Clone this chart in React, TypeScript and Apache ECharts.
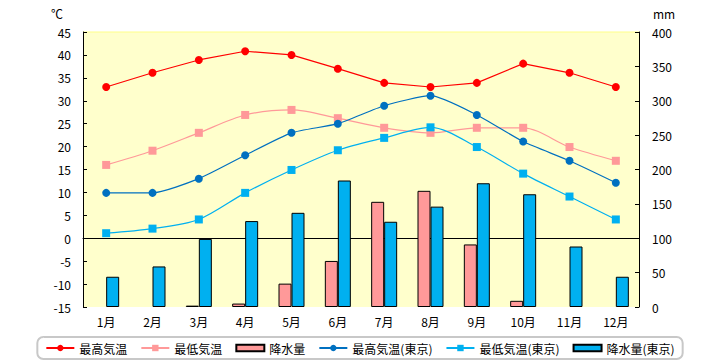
import React, { useEffect, useRef } from "react";
import * as echarts from "echarts";

const months = ["1月", "2月", "3月", "4月", "5月", "6月", "7月", "8月", "9月", "10月", "11月", "12月"];
const maxTemp = [33, 36.1, 38.9, 40.8, 40, 37, 33.9, 33, 33.9, 38.1, 36.1, 33];
const minTemp = [16, 19.1, 23, 26.9, 28, 26.2, 24.1, 23, 24.1, 24.1, 19.9, 16.9];
const rain = [0, 0, 2, 5, 34, 67, 153, 169, 91, 9, 0, 0];
const maxTempTokyo = [9.9, 9.9, 13, 18.1, 23, 25, 28.9, 31.1, 26.9, 21.1, 16.9, 12.1];
const minTempTokyo = [1.1, 2.1, 4.1, 9.9, 14.9, 19.2, 21.9, 24.2, 19.9, 14.1, 9.1, 4.1];
const rainTokyo = [44, 59, 99, 125, 137, 184, 124, 146, 180, 164, 88, 44];
const tempTicks = [-15, 45, 5];
const rainTicks = [0, 400, 50];

const FONT = "'Noto Sans CJK JP', 'DejaVu Sans', sans-serif";

const barData = (arr: number[]) =>
  arr.map((v) => (v === 0 ? { value: v, itemStyle: { borderWidth: 0, opacity: 0 } } : v));

export default function App() {
  const ref = useRef<HTMLDivElement>(null);
  useEffect(() => {
    if (!ref.current) return;
    const chart = echarts.init(ref.current, null, { renderer: "svg" });
    const barIcon = "path://M0,0 L26,0 L26,6 L0,6 Z";
    chart.setOption({
      animation: false,
      textStyle: { fontFamily: FONT },
      grid: {
        left: 83,
        right: 81,
        top: 32,
        bottom: 53,
        show: true,
        backgroundColor: "#FFFFCC",
        borderColor: "#FFFF99",
        borderWidth: 0,
      },
      graphic: [
        { type: "text", left: 51, top: 7, style: { text: "℃", fontSize: 12, fill: "#000", fontFamily: FONT } },
        { type: "text", left: 653, top: 7, style: { text: "mm", fontSize: 12, fill: "#000", fontFamily: FONT } },
        {
          type: "line",
          shape: { x1: 83, y1: 32, x2: 639, y2: 32 },
          style: { stroke: "#FFFF88", lineWidth: 1 },
        },
      ],
      legend: {
        bottom: 1,
        left: "center",
        width: 700,
        padding: [5, 8, 5, 8],
        borderColor: "#C8C8C8",
        borderWidth: 2,
        borderRadius: 6,
        itemWidth: 28,
        itemHeight: 8,
        itemGap: 13,
        textStyle: { fontSize: 12, color: "#000", fontFamily: FONT },
        data: [
          { name: "最高気温" },
          { name: "最低気温" },
          { name: "降水量", icon: barIcon },
          { name: "最高気温(東京)" },
          { name: "最低気温(東京)" },
          { name: "降水量(東京)", icon: barIcon },
        ],
      },
      xAxis: [
        {
          type: "category",
          data: months,
          position: "bottom",
          axisLine: { show: false, onZero: false },
          axisTick: { show: false },
          axisLabel: { fontSize: 12, color: "#000", margin: 8, fontFamily: FONT },
        },
        {
          type: "category",
          data: months,
          axisLine: { show: true, onZero: true, onZeroAxisIndex: 0, lineStyle: { color: "#000", width: 1 } },
          axisTick: { show: false },
          axisLabel: { show: false },
        },
      ],
      yAxis: [
        {
          type: "value",
          min: tempTicks[0],
          max: tempTicks[1],
          interval: tempTicks[2],
          axisLine: { show: true, lineStyle: { color: "#000", width: 1 } },
          axisTick: { show: true, inside: true, length: 4, lineStyle: { color: "#000" } },
          axisLabel: { fontSize: 12, color: "#000", margin: 12, fontFamily: FONT },
          splitLine: { show: false },
        },
        {
          type: "value",
          min: rainTicks[0],
          max: rainTicks[1],
          interval: rainTicks[2],
          position: "right",
          axisLine: { show: true, lineStyle: { color: "#000", width: 1 } },
          axisTick: { show: true, inside: true, length: 4, lineStyle: { color: "#000" } },
          axisLabel: { fontSize: 12, color: "#000", margin: 13, fontFamily: FONT },
          splitLine: { show: false },
        },
      ],
      series: [
        {
          name: "降水量",
          type: "bar",
          yAxisIndex: 1,
          data: barData(rain),
          barWidth: 13,
          barGap: "0%",
          itemStyle: { color: "#FF9999", borderColor: "#000", borderWidth: 1 },
          z: 2,
        },
        {
          name: "降水量(東京)",
          type: "bar",
          yAxisIndex: 1,
          data: barData(rainTokyo),
          barWidth: 13,
          barGap: "0%",
          itemStyle: { color: "#00B0F0", borderColor: "#000", borderWidth: 1 },
          z: 2,
        },
        {
          name: "最高気温",
          type: "line",
          data: maxTemp,
          symbol: "circle",
          symbolSize: 8,
          lineStyle: { color: "#FF0000", width: 1.2 },
          itemStyle: { color: "#FF0000" },
          z: 5,
        },
        {
          name: "最低気温",
          type: "line",
          data: minTemp,
          smooth: 0.3,
          symbol: "rect",
          symbolSize: 8,
          lineStyle: { color: "#FF9999", width: 1.2 },
          itemStyle: { color: "#FF9999" },
          z: 5,
        },
        {
          name: "最高気温(東京)",
          type: "line",
          data: maxTempTokyo,
          smooth: 0.2,
          symbol: "circle",
          symbolSize: 8,
          lineStyle: { color: "#0070C0", width: 1.2 },
          itemStyle: { color: "#0070C0" },
          z: 5,
        },
        {
          name: "最低気温(東京)",
          type: "line",
          data: minTempTokyo,
          smooth: 0.3,
          symbol: "rect",
          symbolSize: 8,
          lineStyle: { color: "#00B0F0", width: 1.2 },
          itemStyle: { color: "#00B0F0" },
          z: 5,
        },
      ],
    });
    return () => chart.dispose();
  }, []);
  return <div ref={ref} style={{ width: 720, height: 360, position: "absolute", left: 0, top: 0 }} />;
}
